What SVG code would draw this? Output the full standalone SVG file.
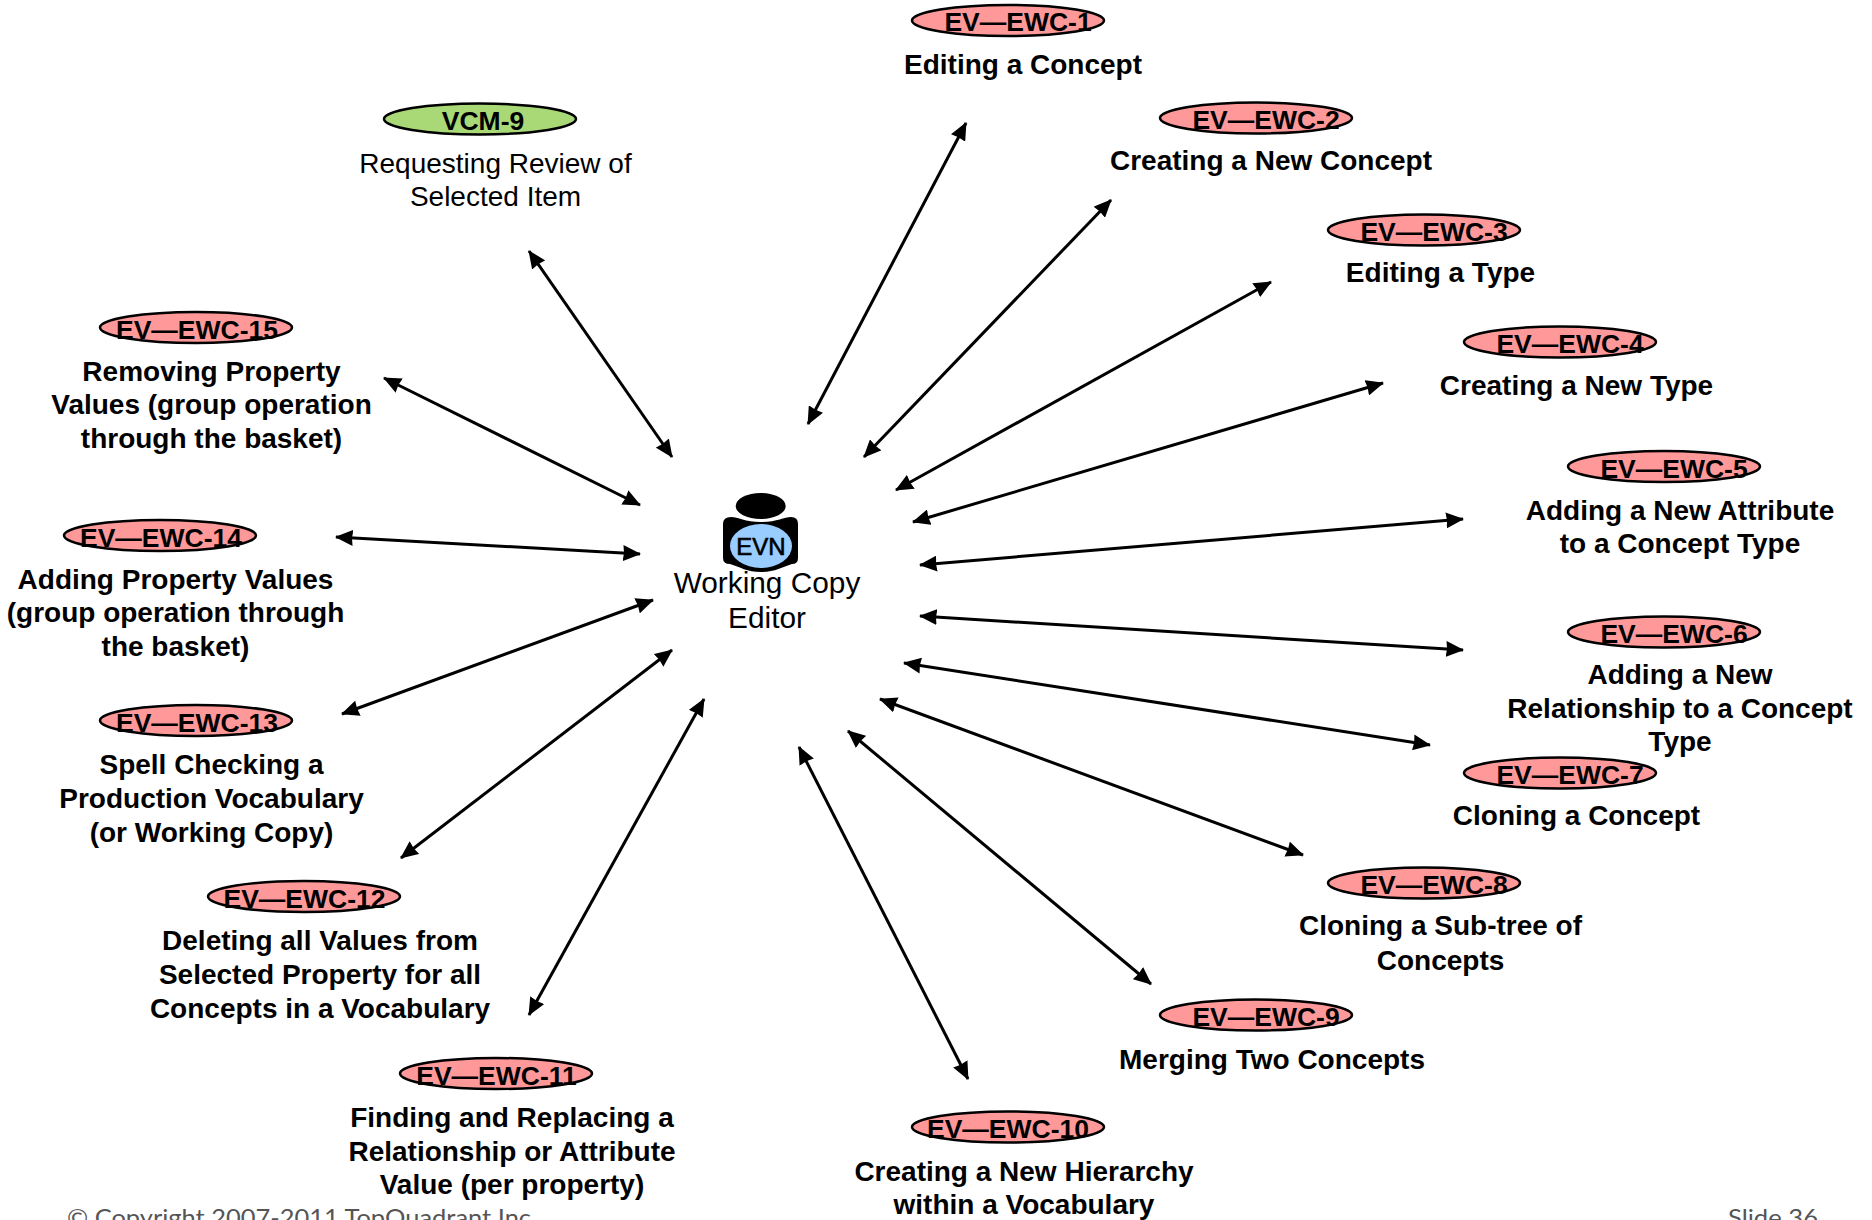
<svg xmlns="http://www.w3.org/2000/svg" width="1872" height="1220" viewBox="0 0 1872 1220">
<style>
text{font-family:"Liberation Sans",Arial,sans-serif;fill:#000;text-anchor:middle}
.id{font-size:26.5px;font-weight:700}
.d{font-size:28px;font-weight:700;transform:translateY(-1px)}
.r{font-size:28px;transform:translateY(-.5px)}
.w{font-size:29.8px}
.e{stroke:#000;stroke-width:2.5;transform:translateY(-.5px)}
.p{fill:#ff9999}
.g{fill:#a9d977}
.c{fill:none;stroke:#000;stroke-width:3;marker-start:url(#a);marker-end:url(#a)}
.f{font-family:"Lato","Open Sans",sans-serif;font-size:24px;fill:#555}
</style>
<defs><marker id="a" markerUnits="userSpaceOnUse" markerWidth="20" markerHeight="16" refX="17" refY="8" orient="auto-start-reverse"><path d="M0 0L18 8L0 16L1 8Z" fill="#000"/></marker></defs>
<rect width="1872" height="1220" fill="#fff"/>
<g id="connectors">
<path class="c" d="M966 123L808 424"/>
<path class="c" d="M1111 200L864 457"/>
<path class="c" d="M1271 282L896 490"/>
<path class="c" d="M1383 383L913 522"/>
<path class="c" d="M1463 519L920 565"/>
<path class="c" d="M1463 650L920 616"/>
<path class="c" d="M1430 745L904 663"/>
<path class="c" d="M1303 855L880 699"/>
<path class="c" d="M1151 984L848 731"/>
<path class="c" d="M968 1079L799 747"/>
<path class="c" d="M529 1015L704 699"/>
<path class="c" d="M401 858L672 650"/>
<path class="c" d="M342 714L653 600"/>
<path class="c" d="M336 537L640 554"/>
<path class="c" d="M384 378L640 505"/>
<path class="c" d="M529 251L672 457"/>
</g>
<g id="center">
<ellipse cx="760.7" cy="506" rx="25" ry="13"/>
<path d="M731 517C738 517 745 522 761 522C777 522 784 517 791 517Q798 517 798 524V558Q798 564 792 564C782 567 775 572 761 572C747 572 740 567 730 564Q723 564 723 558V524Q723 517 731 517Z"/>
<ellipse cx="761" cy="546" rx="31" ry="22" fill="#99ccff"/>
<text x="761" y="555" style="font-size:24px;stroke:#000;stroke-width:.6">EVN</text>
<text class="w" x="767" y="593">Working Copy</text>
<text class="w" x="767" y="628">Editor</text>
</g>
<g id="VCM-9"><ellipse class="e g" cx="480" cy="119.5" rx="96" ry="15.5"/><text class="id" x="483" y="130">VCM-9</text><text class="r" x="495.5" y="173">Requesting Review of</text><text class="r" x="495.5" y="206">Selected Item</text></g>
<g id="EWC-1"><ellipse class="e p" cx="1008" cy="21" rx="96" ry="15.5"/><text class="id" x="1018" y="31">EV—EWC-1</text><text class="d" x="1023" y="74.5">Editing a Concept</text></g>
<g id="EWC-2"><ellipse class="e p" cx="1256" cy="118.5" rx="96" ry="15.5"/><text class="id" x="1266" y="129">EV—EWC-2</text><text class="d" x="1271" y="171">Creating a New Concept</text></g>
<g id="EWC-3"><ellipse class="e p" cx="1424" cy="230.5" rx="96" ry="15.5"/><text class="id" x="1434" y="241">EV—EWC-3</text><text class="d" x="1440.5" y="283">Editing a Type</text></g>
<g id="EWC-4"><ellipse class="e p" cx="1560" cy="342.5" rx="96" ry="15.5"/><text class="id" x="1570" y="353">EV—EWC-4</text><text class="d" x="1576.5" y="395.5">Creating a New Type</text></g>
<g id="EWC-5"><ellipse class="e p" cx="1664" cy="467" rx="96" ry="15.5"/><text class="id" x="1674" y="478">EV—EWC-5</text><text class="d" x="1680" y="520.5">Adding a New Attribute</text><text class="d" x="1680" y="553.5">to a Concept Type</text></g>
<g id="EWC-6"><ellipse class="e p" cx="1664" cy="632.5" rx="96" ry="15.5"/><text class="id" x="1674" y="643">EV—EWC-6</text><text class="d" x="1680" y="685">Adding a New</text><text class="d" x="1680" y="718.5">Relationship to a Concept</text><text class="d" x="1680" y="752">Type</text></g>
<g id="EWC-7"><ellipse class="e p" cx="1560" cy="773.5" rx="96" ry="15.5"/><text class="id" x="1570" y="784">EV—EWC-7</text><text class="d" x="1576.5" y="826">Cloning a Concept</text></g>
<g id="EWC-8"><ellipse class="e p" cx="1424" cy="883.5" rx="96" ry="15.5"/><text class="id" x="1434" y="894">EV—EWC-8</text><text class="d" x="1440.5" y="935.5">Cloning a Sub-tree of</text><text class="d" x="1440.5" y="970.5">Concepts</text></g>
<g id="EWC-9"><ellipse class="e p" cx="1256" cy="1015.5" rx="96" ry="15.5"/><text class="id" x="1266" y="1026">EV—EWC-9</text><text class="d" x="1272" y="1069.5">Merging Two Concepts</text></g>
<g id="EWC-10"><ellipse class="e p" cx="1008" cy="1127.5" rx="96" ry="15.5"/><text class="id" x="1008" y="1138">EV—EWC-10</text><text class="d" x="1024" y="1181.5">Creating a New Hierarchy</text><text class="d" x="1024" y="1214.5">within a Vocabulary</text></g>
<g id="EWC-11"><ellipse class="e p" cx="496" cy="1074" rx="96" ry="15.5"/><text class="id" x="496.5" y="1084.5">EV—EWC-11</text><text class="d" x="512" y="1127.5">Finding and Replacing a</text><text class="d" x="512" y="1161.5">Relationship or Attribute</text><text class="d" x="512" y="1194.5">Value (per property)</text></g>
<g id="EWC-12"><ellipse class="e p" cx="304" cy="897" rx="96" ry="15.5"/><text class="id" x="304.5" y="907.5">EV—EWC-12</text><text class="d" x="320" y="951">Deleting all Values from</text><text class="d" x="320" y="984.5">Selected Property for all</text><text class="d" x="320" y="1019">Concepts in a Vocabulary</text></g>
<g id="EWC-13"><ellipse class="e p" cx="196" cy="721" rx="96" ry="15.5"/><text class="id" x="197" y="731.5">EV—EWC-13</text><text class="d" x="211.5" y="774.5">Spell Checking a</text><text class="d" x="211.5" y="808.5">Production Vocabulary</text><text class="d" x="211.5" y="842.5">(or Working Copy)</text></g>
<g id="EWC-14"><ellipse class="e p" cx="160" cy="536" rx="96" ry="15.5"/><text class="id" x="161" y="546.5">EV—EWC-14</text><text class="d" x="175.5" y="589.5">Adding Property Values</text><text class="d" x="175.5" y="623">(group operation through</text><text class="d" x="175.5" y="656.5">the basket)</text></g>
<g id="EWC-15"><ellipse class="e p" cx="196" cy="328" rx="96" ry="15.5"/><text class="id" x="197" y="338.5">EV—EWC-15</text><text class="d" x="211.5" y="382">Removing Property</text><text class="d" x="211.5" y="415">Values (group operation</text><text class="d" x="211.5" y="449">through the basket)</text></g>
<g id="footer">
<text class="f" x="67" y="1226" style="text-anchor:start" textLength="470" lengthAdjust="spacingAndGlyphs">© Copyright 2007-2011 TopQuadrant Inc.</text>
<text class="f" x="1728" y="1226" style="text-anchor:start" textLength="90" lengthAdjust="spacingAndGlyphs">Slide 36</text>
</g>
</svg>
